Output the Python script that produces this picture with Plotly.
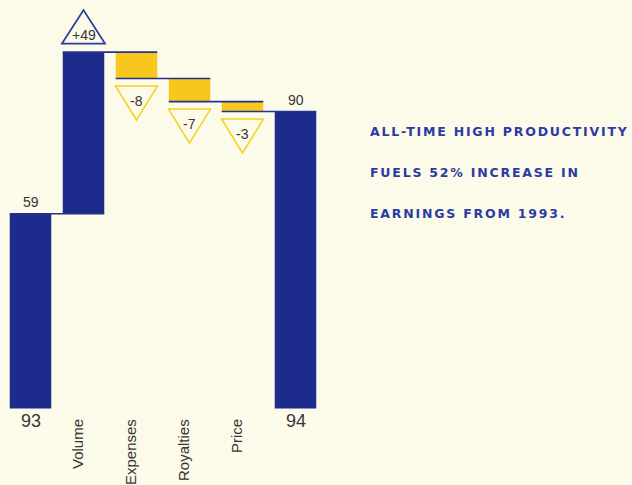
import json
import plotly.graph_objects as go

# ---- data -------------------------------------------------------------
categories = ["93", "Volume", "Expenses", "Royalties", "Price", "94"]
measures = ["absolute", "relative", "relative", "relative", "relative", "total"]
values = [59, 49, -8, -7, -3, 0]          # the "total" entry is summed by the trace
headline = [
    "ALL-TIME HIGH PRODUCTIVITY",
    "FUELS 52% INCREASE IN",
    "EARNINGS FROM 1993.",
]

# ---- styling ----------------------------------------------------------
BG = "#fcfae8"
NAVY = "#1c2b8c"
GOLD = "#f8c71e"
LINE = "#23318f"
TRI_BLUE = "#2c3c9e"
TRI_GOLD = "#f3d21f"
TEXT = "#363636"
HEAD = "#2a3ba4"
NUM_FONT = "Liberation Sans, Arial, sans-serif"
BAR_W = 0.783

xs = list(range(len(categories)))

# running level after each bar
levels = []
run = 0
for m, v in zip(measures, values):
    if m == "absolute":
        run = v
    elif m == "relative":
        run += v
    levels.append(run)

fig = go.Figure(
    go.Waterfall(
        x=xs,
        y=values,
        measure=measures,
        width=BAR_W,
        increasing=dict(marker=dict(color=NAVY, line=dict(width=0))),
        decreasing=dict(marker=dict(color=GOLD, line=dict(width=0))),
        totals=dict(marker=dict(color=NAVY, line=dict(width=0))),
        connector=dict(visible=False),
        textposition="none",
        hoverinfo="skip",
    )
)

shapes = []
annotations = []

# step lines joining each level to the next bar
for i in range(len(xs) - 1):
    shapes.append(dict(
        type="line", xref="x", yref="y",
        x0=xs[i] - BAR_W / 2, x1=xs[i + 1] + BAR_W / 2,
        y0=levels[i], y1=levels[i],
        line=dict(color=LINE, width=1.6), layer="above",
    ))

# change markers: triangle above a rise, below a fall
for i, m in enumerate(measures):
    if m != "relative":
        continue
    v = values[i]
    label = f"{v:+d}"
    if v > 0:
        shapes.append(dict(
            type="path", xref="x", yref="y",
            xsizemode="pixel", ysizemode="pixel",
            xanchor=xs[i], yanchor=levels[i],
            path="M-21.5,8.5 L21.5,8.5 L0,42 Z",
            line=dict(color=TRI_BLUE, width=1.8), fillcolor=BG, layer="above",
        ))
        annotations.append(dict(
            x=xs[i], y=levels[i], xref="x", yref="y", yshift=17,
            text=label, showarrow=False, yanchor="middle",
            font=dict(family=NUM_FONT, size=14, color=TEXT),
        ))
    else:
        bottom = levels[i]
        shapes.append(dict(
            type="path", xref="x", yref="y",
            xsizemode="pixel", ysizemode="pixel",
            xanchor=xs[i], yanchor=bottom,
            path="M-21,-7.5 L21,-7.5 L0,-41.5 Z",
            line=dict(color=TRI_GOLD, width=1.5), fillcolor=BG, layer="above",
        ))
        annotations.append(dict(
            x=xs[i], y=bottom, xref="x", yref="y", yshift=-22,
            text=label, showarrow=False, yanchor="middle",
            font=dict(family=NUM_FONT, size=14, color=TEXT),
        ))

# totals: value above, year below
for i, m in enumerate(measures):
    if m == "relative":
        continue
    annotations.append(dict(
        x=xs[i], y=levels[i], xref="x", yref="y", yshift=12,
        text=str(levels[i]), showarrow=False, yanchor="middle",
        font=dict(family=NUM_FONT, size=14, color=TEXT),
    ))
    annotations.append(dict(
        x=xs[i], y=0, xref="x", yref="y", yshift=-12,
        text=categories[i], showarrow=False, yanchor="middle",
        font=dict(family=NUM_FONT, size=18, color=TEXT),
    ))

# rotated category names under the change bars
for i, m in enumerate(measures):
    if m != "relative":
        continue
    annotations.append(dict(
        x=xs[i], y=0, xref="x", yref="y", yshift=-9, xshift=-6,
        text=categories[i], showarrow=False, textangle=-90,
        xanchor="center", yanchor="top",
        font=dict(family=NUM_FONT, size=15, color=TEXT),
    ))

# headline block on the right
for line_text, ypx in zip(headline, [131.5, 172, 213]):
    annotations.append(dict(
        x=368 / 632, y=1 - ypx / 485, xref="paper", yref="paper",
        text=line_text, showarrow=False, xanchor="left", yanchor="middle",
        align="left",
        font=dict(family="DejaVu Sans, sans-serif", size=12.5, color=HEAD, weight="bold"),
    ))

PX_PER_X = 53.0
PX_PER_Y = 3.30
ZERO_PX = 408.5
x0 = -30.5 / PX_PER_X
fig.update_layout(
    width=632, height=485,
    margin=dict(l=0, r=0, t=0, b=0),
    paper_bgcolor=BG, plot_bgcolor=BG,
    showlegend=False,
    xaxis=dict(visible=False, range=[x0, x0 + 632 / PX_PER_X], fixedrange=True),
    yaxis=dict(visible=False, range=[(ZERO_PX - 485) / PX_PER_Y, ZERO_PX / PX_PER_Y], fixedrange=True),
    shapes=shapes,
    annotations=annotations,
)

# widen the tracking of the headline lines
spacing_js = """
(function(){
  var gd = document.getElementById('{plot_id}');
  var lines = %s;
  function track(){
    gd.querySelectorAll('.annotation-text').forEach(function(t){
      if (lines.indexOf(t.textContent) >= 0) { t.style.letterSpacing = '1.8px'; }
    });
  }
  track();
  if (gd.on) { gd.on('plotly_afterplot', track); }
  setTimeout(track, 50);
})();
""" % json.dumps(headline)

fig.write_html("out.html", post_script=spacing_js)
